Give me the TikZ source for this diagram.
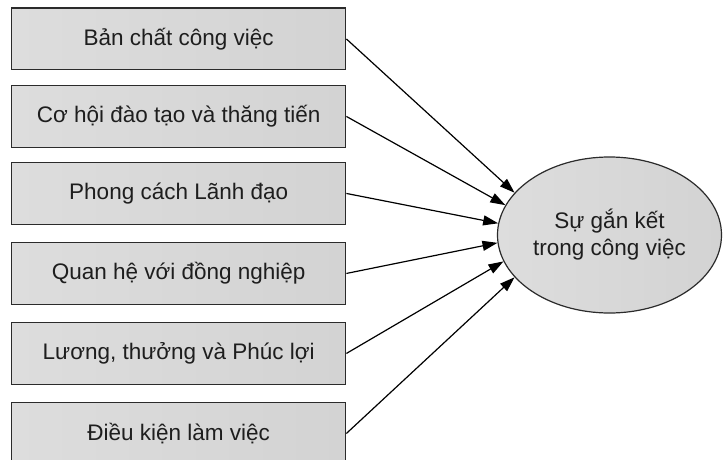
\documentclass[tikz,border=0pt]{standalone}
\usepackage{fontspec}
\setmainfont{Liberation Sans}
\usetikzlibrary{arrows.meta,shapes.geometric}
\definecolor{boxedge}{HTML}{2B2B2B}
\definecolor{inktext}{HTML}{1E1E1E}
\definecolor{fillA}{HTML}{DDDDDD}
\definecolor{fillB}{HTML}{D3D3D3}
\tikzset{
  factor/.style={draw=boxedge, line width=1.4pt, left color=fillA, right color=fillB,
    minimum width=334pt, minimum height=61.5pt, inner sep=0pt, anchor=north west,
    text=inktext, font=\fontsize{22.5}{27}\selectfont},
  outcome/.style={ellipse, draw=boxedge, line width=1.2pt, left color=fillA, right color=fillB,
    minimum width=224pt, minimum height=156pt, inner sep=0pt, align=center,
    text=inktext, font=\fontsize{22.5}{27}\selectfont},
  link/.style={draw=black, line width=1.2pt, -{Triangle[length=15pt,width=10pt]}}
}
\begin{document}
\begin{tikzpicture}[x=1pt,y=-1pt]
  \useasboundingbox (0,0) rectangle (723,460);
  \node[factor] (b1) at (11,7.5)  {Bản chất công việc};
  \node[factor] (b2) at (11,85)   {Cơ hội đào tạo và thăng tiến};
  \node[factor] (b3) at (11,162)  {Phong cách Lãnh đạo};
  \node[factor] (b4) at (11,242)  {Quan hệ với đồng nghiệp};
  \node[factor] (b5) at (11,322)  {Lương, thưởng và Phúc lợi};
  \node[factor] (b6) at (11,402)  {Điều kiện làm việc};
  \node[outcome] (e) at (609.5,235) {Sự gắn kết\\trong công việc};
  \draw[link] (b1.east) -- (e.156);
  \draw[link] (b2.east) -- (e.164);
  \draw[link] (b3.east) -- (e.174);
  \draw[link] (b4.east) -- (e.184);
  \draw[link] (b5.east) -- (e.194);
  \draw[link] (b6.east) -- (e.204);
\end{tikzpicture}
\end{document}
